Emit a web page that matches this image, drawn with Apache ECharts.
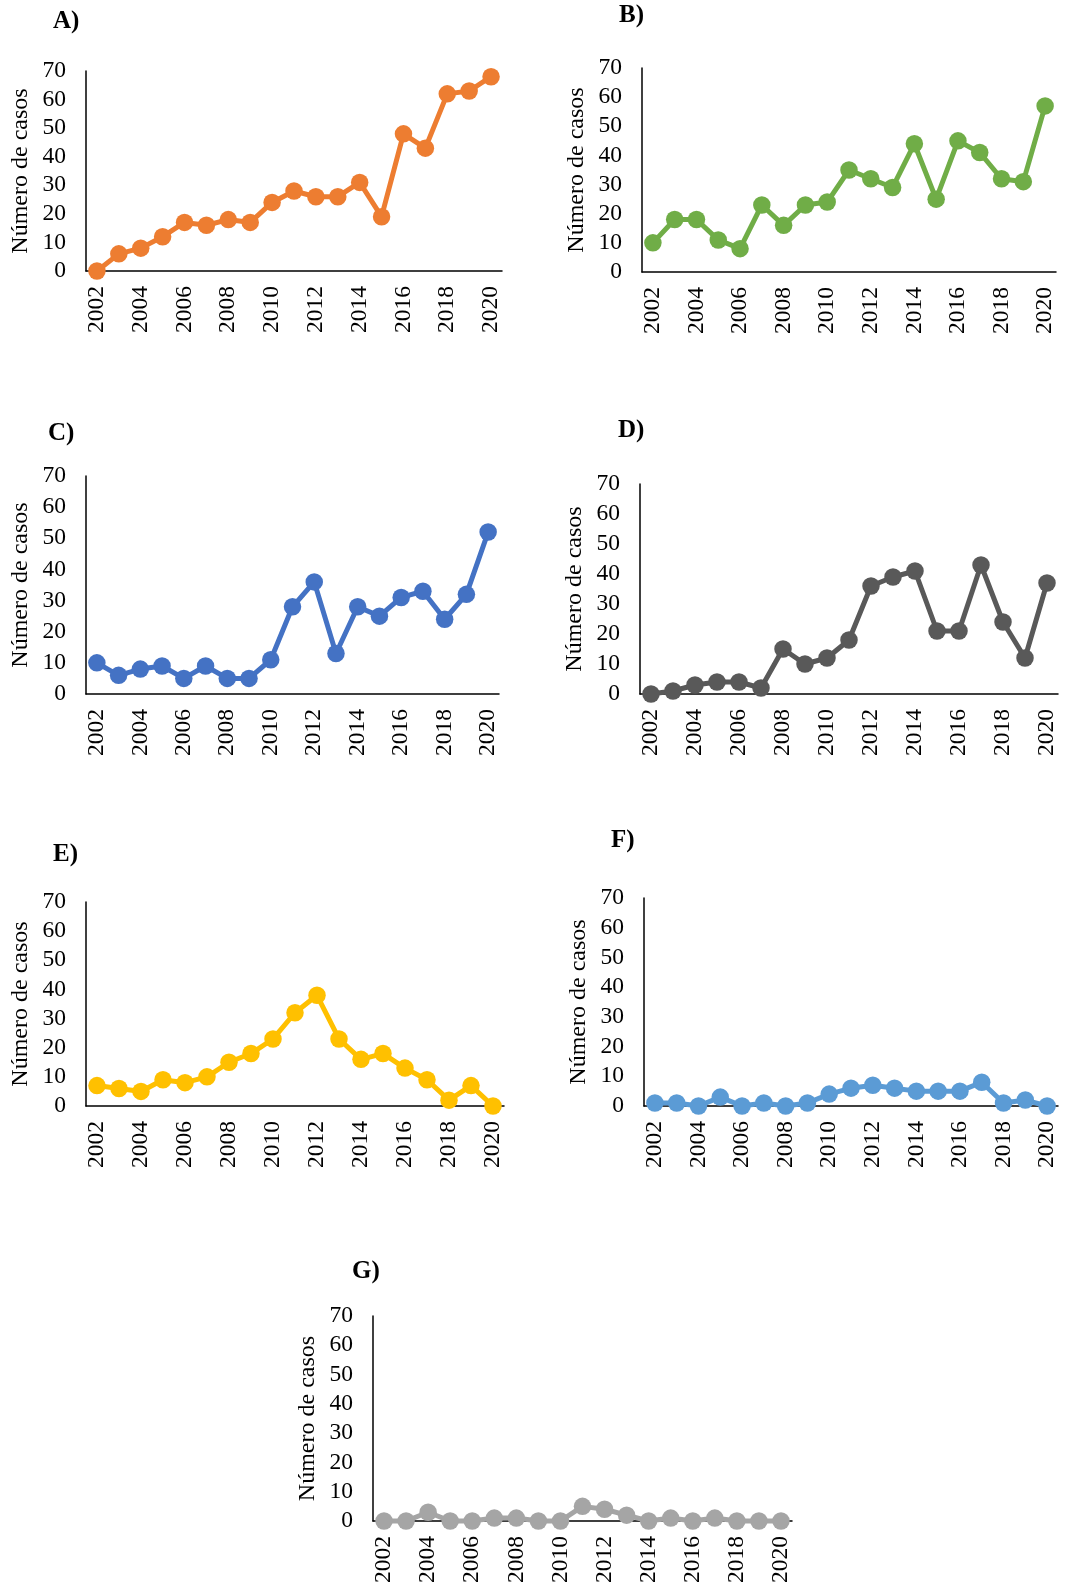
<!DOCTYPE html>
<html>
<head>
<meta charset="utf-8">
<script src="https://cdn.jsdelivr.net/npm/echarts@6/dist/echarts.min.js"></script>
<style>
html,body{margin:0;padding:0;background:#fff;}
#chart{width:1074px;height:1586px;}
</style>
</head>
<body>
<div id="chart"></div>
<script>
// ---- data ----
const years = ['2002','2003','2004','2005','2006','2007','2008','2009','2010','2011','2012','2013','2014','2015','2016','2017','2018','2019','2020'];
const panelLabels = ['A)','B)','C)','D)','E)','F)','G)'];
const yAxisName = 'Número de casos';
const yMin = 0, yMax = 70, yStep = 10;
const casesA = [0,6,8,12,17,16,18,17,24,28,26,26,31,19,48,43,62,63,68];
const casesB = [10,18,18,11,8,23,16,23,24,35,32,29,44,25,45,41,32,31,57];
const casesC = [10,6,8,9,5,9,5,5,11,28,36,13,28,25,31,33,24,32,52];
const casesD = [0,1,3,4,4,2,15,10,12,18,36,39,41,21,21,43,24,12,37];
const casesE = [7,6,5,9,8,10,15,18,23,32,38,23,16,18,13,9,2,7,0];
const casesF = [1,1,0,3,0,1,0,1,4,6,7,6,5,5,5,8,1,2,0];
const casesG = [0,0,3,0,0,1,1,0,0,5,4,2,0,1,0,1,0,0,0];
const allSeries = [casesA,casesB,casesC,casesD,casesE,casesF,casesG];

// ---- layout & style ----
const colors = ['#ED7D31','#70AD47','#4472C4','#595959','#FFC000','#5B9BD5','#A5A5A5'];
const grids = [
  {left:86, top:71, width:416, height:200},
  {left:642, top:68, width:414, height:204},
  {left:86, top:476, width:413, height:218},
  {left:640, top:484, width:418, height:210},
  {left:86, top:902, width:418, height:204},
  {left:644, top:898, width:414, height:208},
  {left:373, top:1316, width:419, height:206}
];
const titlePos = [
  {left:53, top:9},
  {left:619, top:3},
  {left:48, top:421},
  {left:618, top:418},
  {left:53, top:842},
  {left:611, top:828},
  {left:352, top:1259}
];
const FONT = "'Liberation Serif', 'Times New Roman', serif";

const option = {
  backgroundColor:'#fff',
  animation:false,
  title: titlePos.map((p,i)=>({
    text: panelLabels[i], left:p.left, top:p.top, padding:0,
    textStyle:{fontFamily:FONT, fontWeight:'bold', fontSize:25, color:'#000'}
  })),
  grid: grids.map(g=>Object.assign({containLabel:false}, g)),
  xAxis: grids.map((g,i)=>({
    type:'category', gridIndex:i, data:years, boundaryGap:true,
    axisLine:{show:true, lineStyle:{color:'#000', width:1.5}},
    axisTick:{show:false},
    axisLabel:{rotate:90, interval:1, margin:15, fontFamily:FONT, fontSize:23.5, color:'#000'},
    splitLine:{show:false}
  })),
  yAxis: grids.map((g,i)=>({
    type:'value', gridIndex:i, min:yMin, max:yMax, interval:yStep,
    name:yAxisName, nameLocation:'middle', nameGap:53,
    nameTextStyle:{fontFamily:FONT, fontSize:24, color:'#000'},
    axisLine:{show:true, lineStyle:{color:'#000', width:1.5}},
    axisTick:{show:false},
    axisLabel:{margin:20, fontFamily:FONT, fontSize:23.5, color:'#000'},
    splitLine:{show:false}
  })),
  series: allSeries.map((d,i)=>({
    type:'line', xAxisIndex:i, yAxisIndex:i, data:d,
    symbol:'circle', symbolSize:17.5, showAllSymbol:true, clip:false,
    lineStyle:{color:colors[i], width:5},
    itemStyle:{color:colors[i]}
  }))
};
const chart = echarts.init(document.getElementById('chart'), null, {renderer:'canvas'});
chart.setOption(option);
</script>
</body>
</html>
